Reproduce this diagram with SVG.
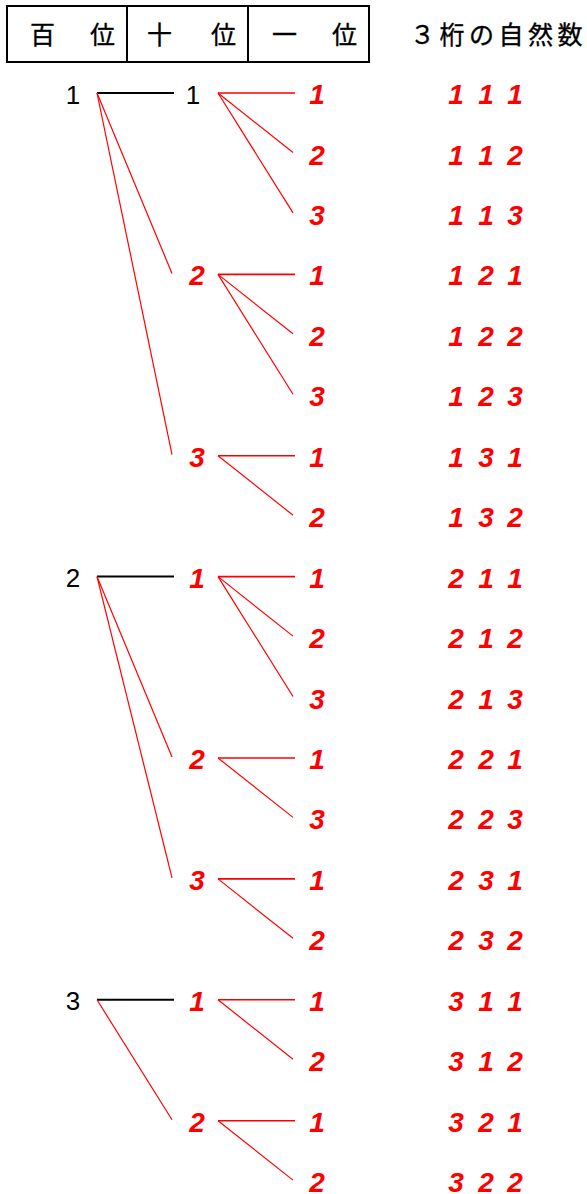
<svg xmlns="http://www.w3.org/2000/svg" width="587" height="1194" viewBox="0 0 587 1194">
<style>
.hdr{font-family:"Noto Sans CJK JP","Noto Sans CJK SC",sans-serif;font-size:25px;fill:#000;stroke:#000;stroke-width:0.35}
.blk{font-family:"Liberation Sans",Arial,sans-serif;font-size:26px;fill:#000;text-anchor:middle}
.red{font-family:"Liberation Sans",Arial,sans-serif;font-size:28px;font-weight:bold;font-style:italic;fill:#f00;text-anchor:middle}
.bl{stroke:#000;stroke-width:2;fill:none}
.rh{stroke:#f00;stroke-width:1.6;fill:none}
.rd{stroke:#f00;stroke-width:1.2;fill:none}
</style>
<rect width="587" height="1194" fill="#fff"/>
<g id="header">
<rect x="7" y="6" width="362" height="56" fill="none" stroke="#000" stroke-width="2"/>
<line x1="127" y1="6" x2="127" y2="62" stroke="#000" stroke-width="2"/>
<line x1="248" y1="6" x2="248" y2="62" stroke="#000" stroke-width="2"/>
<text class="hdr" x="30" y="44">百</text><text class="hdr" x="90" y="44">位</text>
<text class="hdr" x="147" y="44">十</text><text class="hdr" x="211" y="44">位</text>
<text class="hdr" x="272" y="44">一</text><text class="hdr" x="332" y="44">位</text>
<text class="hdr" x="410" y="44" letter-spacing="4.5">３桁の自然数</text>
</g>
<g id="connectors">
<line class="bl" x1="97" y1="93" x2="174" y2="93"/>
<line class="bl" x1="97" y1="576.6" x2="174" y2="576.6"/>
<line class="bl" x1="97" y1="999.8" x2="174" y2="999.8"/>
<line class="rd" x1="97" y1="93" x2="172" y2="273.4"/>
<line class="rd" x1="97" y1="93" x2="172" y2="454.7"/>
<line class="rd" x1="97" y1="576.6" x2="172" y2="757"/>
<line class="rd" x1="97" y1="576.6" x2="172" y2="877.9"/>
<line class="rd" x1="97" y1="999.8" x2="172" y2="1119.7"/>
<line class="rh" x1="218" y1="93" x2="295" y2="93"/>
<line class="rh" x1="218" y1="274.4" x2="295" y2="274.4"/>
<line class="rh" x1="218" y1="455.7" x2="295" y2="455.7"/>
<line class="rh" x1="218" y1="576.6" x2="295" y2="576.6"/>
<line class="rh" x1="218" y1="758" x2="295" y2="758"/>
<line class="rh" x1="218" y1="878.9" x2="295" y2="878.9"/>
<line class="rh" x1="218" y1="999.8" x2="295" y2="999.8"/>
<line class="rh" x1="218" y1="1120.7" x2="295" y2="1120.7"/>
<line class="rd" x1="218" y1="93" x2="293" y2="152.5"/>
<line class="rd" x1="218" y1="93" x2="293" y2="212.9"/>
<line class="rd" x1="218" y1="274.4" x2="293" y2="333.8"/>
<line class="rd" x1="218" y1="274.4" x2="293" y2="394.3"/>
<line class="rd" x1="218" y1="455.7" x2="293" y2="515.2"/>
<line class="rd" x1="218" y1="576.6" x2="293" y2="636.1"/>
<line class="rd" x1="218" y1="576.6" x2="293" y2="696.5"/>
<line class="rd" x1="218" y1="758" x2="293" y2="817.4"/>
<line class="rd" x1="218" y1="878.9" x2="293" y2="938.3"/>
<line class="rd" x1="218" y1="999.8" x2="293" y2="1059.2"/>
<line class="rd" x1="218" y1="1120.7" x2="293" y2="1180.1"/>
</g>
<g id="hundreds">
<text class="blk" x="73" y="103.5">1</text>
<text class="blk" x="73" y="587.1">2</text>
<text class="blk" x="73" y="1010.2">3</text>
</g>
<g id="tens">
<text class="blk" x="193" y="103.5">1</text>
<text class="red" x="197" y="285.4">2</text>
<text class="red" x="197" y="466.7">3</text>
<text class="red" x="197" y="587.6">1</text>
<text class="red" x="197" y="769">2</text>
<text class="red" x="197" y="889.9">3</text>
<text class="red" x="197" y="1010.8">1</text>
<text class="red" x="197" y="1131.7">2</text>
</g>
<g id="ones">
<text class="red" x="317" y="104">1</text>
<text class="red" x="317" y="164.5">2</text>
<text class="red" x="317" y="224.9">3</text>
<text class="red" x="317" y="285.4">1</text>
<text class="red" x="317" y="345.8">2</text>
<text class="red" x="317" y="406.3">3</text>
<text class="red" x="317" y="466.7">1</text>
<text class="red" x="317" y="527.2">2</text>
<text class="red" x="317" y="587.6">1</text>
<text class="red" x="317" y="648.1">2</text>
<text class="red" x="317" y="708.5">3</text>
<text class="red" x="317" y="769">1</text>
<text class="red" x="317" y="829.4">3</text>
<text class="red" x="317" y="889.9">1</text>
<text class="red" x="317" y="950.3">2</text>
<text class="red" x="317" y="1010.8">1</text>
<text class="red" x="317" y="1071.2">2</text>
<text class="red" x="317" y="1131.7">1</text>
<text class="red" x="317" y="1192.1">2</text>
</g>
<g id="numbers">
<text class="red" x="456" y="104">1</text><text class="red" x="486" y="104">1</text><text class="red" x="515" y="104">1</text>
<text class="red" x="456" y="164.5">1</text><text class="red" x="486" y="164.5">1</text><text class="red" x="515" y="164.5">2</text>
<text class="red" x="456" y="224.9">1</text><text class="red" x="486" y="224.9">1</text><text class="red" x="515" y="224.9">3</text>
<text class="red" x="456" y="285.4">1</text><text class="red" x="486" y="285.4">2</text><text class="red" x="515" y="285.4">1</text>
<text class="red" x="456" y="345.8">1</text><text class="red" x="486" y="345.8">2</text><text class="red" x="515" y="345.8">2</text>
<text class="red" x="456" y="406.3">1</text><text class="red" x="486" y="406.3">2</text><text class="red" x="515" y="406.3">3</text>
<text class="red" x="456" y="466.7">1</text><text class="red" x="486" y="466.7">3</text><text class="red" x="515" y="466.7">1</text>
<text class="red" x="456" y="527.2">1</text><text class="red" x="486" y="527.2">3</text><text class="red" x="515" y="527.2">2</text>
<text class="red" x="456" y="587.6">2</text><text class="red" x="486" y="587.6">1</text><text class="red" x="515" y="587.6">1</text>
<text class="red" x="456" y="648.1">2</text><text class="red" x="486" y="648.1">1</text><text class="red" x="515" y="648.1">2</text>
<text class="red" x="456" y="708.5">2</text><text class="red" x="486" y="708.5">1</text><text class="red" x="515" y="708.5">3</text>
<text class="red" x="456" y="769">2</text><text class="red" x="486" y="769">2</text><text class="red" x="515" y="769">1</text>
<text class="red" x="456" y="829.4">2</text><text class="red" x="486" y="829.4">2</text><text class="red" x="515" y="829.4">3</text>
<text class="red" x="456" y="889.9">2</text><text class="red" x="486" y="889.9">3</text><text class="red" x="515" y="889.9">1</text>
<text class="red" x="456" y="950.3">2</text><text class="red" x="486" y="950.3">3</text><text class="red" x="515" y="950.3">2</text>
<text class="red" x="456" y="1010.8">3</text><text class="red" x="486" y="1010.8">1</text><text class="red" x="515" y="1010.8">1</text>
<text class="red" x="456" y="1071.2">3</text><text class="red" x="486" y="1071.2">1</text><text class="red" x="515" y="1071.2">2</text>
<text class="red" x="456" y="1131.7">3</text><text class="red" x="486" y="1131.7">2</text><text class="red" x="515" y="1131.7">1</text>
<text class="red" x="456" y="1192.1">3</text><text class="red" x="486" y="1192.1">2</text><text class="red" x="515" y="1192.1">2</text>
</g>
</svg>
